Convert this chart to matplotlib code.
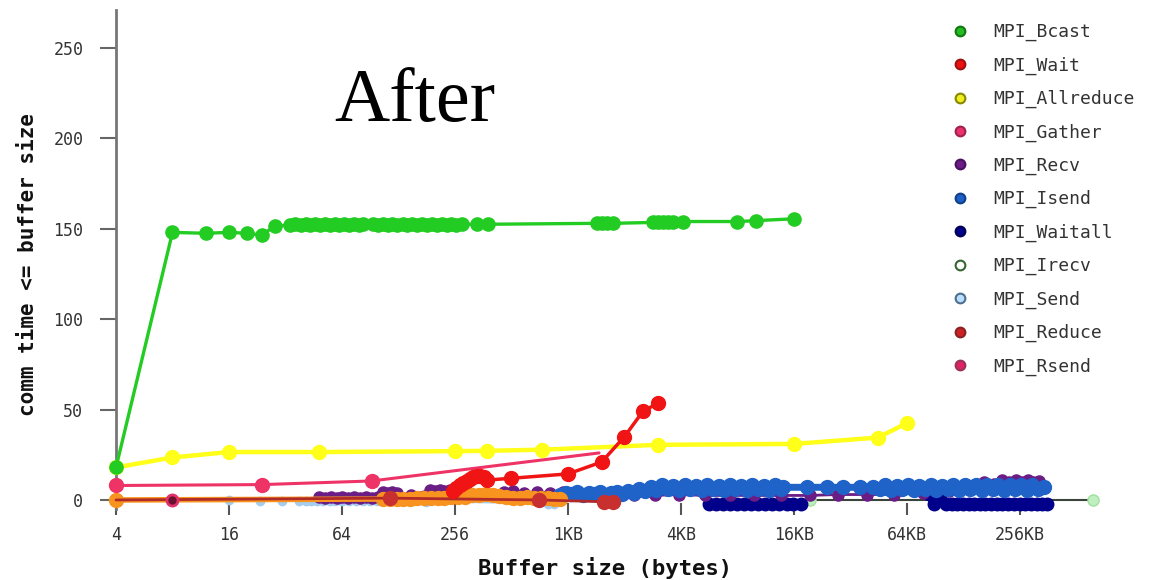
import numpy as np
import matplotlib
matplotlib.use("Agg")
import matplotlib.pyplot as plt
from matplotlib.lines import Line2D
from matplotlib.ticker import NullLocator

# ---------------- data (buffer size in bytes, comm time) ----------------
bcast_x = [4, 8, 12, 16, 20, 24, 28,
           34, 36, 38.5, 41, 43.5, 46, 49, 52, 55, 58.5, 62, 66, 70, 74.5, 79, 83,
           94, 100, 106, 112, 118, 125,
           135, 143, 152, 161, 171, 182, 193, 205, 218, 231, 245, 260, 278,
           335, 383,
           1460, 1560, 1660, 1780,
           2900, 3100, 3300, 3500, 3700,
           4200, 8200, 10300, 16384]
bcast_y = [18, 148, 147.5, 148, 147.5, 146.5, 151.5,
           152, 152.5, 152, 152.5, 152, 152.5, 152, 152.5, 152, 152.5, 152, 152.5, 152, 152.5, 152, 152.5,
           152.5, 152, 152.5, 152, 152.5, 152,
           152.5, 152, 152.5, 152, 152.5, 152, 152.5, 152, 152.5, 152, 152.5, 152, 152.5,
           152.5, 152.5,
           153, 153, 153, 153,
           153.5, 153.5, 153.5, 153.5, 153.5,
           154, 154, 154.5, 155.5]

wait_x = [250, 260, 272, 284, 296, 308, 320, 335, 350, 365, 380, 512, 1024, 1550, 2050, 2570, 3100]
wait_y = [5, 6.5, 8, 9.5, 10.5, 11.5, 12.5, 13, 13.3, 12.5, 11, 12, 14.4, 21, 35, 49, 53.6]

allreduce_x = [4, 8, 16, 48, 256, 380, 745, 3090, 16384, 46000, 65536]
allreduce_y = [18, 23.5, 26.5, 26.5, 27, 27.2, 27.8, 30.5, 31, 34.5, 42.5]

gather_x = [4, 24, 92, 1500]
gather_y = [8, 8.5, 10.5, 26]

other_x = [4, 106, 115, 125, 136, 148, 160, 175, 190, 207, 225, 245, 267, 290, 315, 343,
           373, 406, 442, 481, 523, 569, 619, 674, 733, 798, 868, 930]
other_y = [0, 0.5, 0.5, 0.3, 0.5, 0.8, 1, 1, 1.2, 1, 1, 1.5, 1.5, 1.5, 2.5, 3,
           3.5, 3, 2, 1.5, 1, 1, 1.5, 1, 1, 1, 0.5, 0.5]

reduce_x = [4, 115, 720, 1600, 1780]
reduce_y = [0, 1, 0, -1, -1]

rsend_x = [8]
rsend_y = [0]

send_x = [16, 23.5, 30.7, 38, 41, 44, 47, 51, 55, 59, 64, 70, 76, 83, 90, 98, 106, 180, 800, 860]
send_y = [0, -0.5, -0.5, -0.3, -0.5, -0.3, -0.5, -0.3, -0.5, -0.3, -0.5, -0.3, -0.5, -0.3,
          -0.5, -0.3, -0.5, -1, -2, -2]

recv_x = [48, 52, 56, 60, 64, 69, 74, 80, 86, 93, 100,
          106, 112, 118, 125,
          150, 189, 200, 212, 225, 240,
          290, 340, 400, 470, 520, 600, 700, 820, 960,
          1100, 1400, 1800, 2300, 3000, 4000, 5500, 7500, 10000, 14000, 20000, 28000, 40000,
          56000, 80000, 110000,
          150000, 170000, 190000, 210000, 230000, 250000, 270000, 290000, 310000, 330000]
recv_y = [1.5, 1, 1.5, 1, 1.5, 1, 1.5, 1, 1.5, 1, 1.5,
          4.5, 4, 4.5, 4,
          2.5, 5.5, 5, 5.5, 5, 5.5,
          3, 2.5, 3, 4.5, 5, 4, 4.5, 4, 4.5,
          3, 3, 2.5, 3, 2.5, 3, 2.5, 2.5, 2.5, 2.5, 2.5, 3, 3,
          3, 4, 5,
          8, 10, 9, 11, 10, 11, 10, 11, 10, 10.5]

isend_x = [930, 1000, 1070, 1150, 1230, 1320, 1410, 1510, 1620, 1740, 1860, 2000,
           2140, 2300, 2460, 2640, 2830, 3030, 3250, 3480, 3730, 4000,
           4290, 4600, 4930, 5280, 5660, 6070, 6500, 6970, 7470, 8000,
           8580, 9190, 9850, 10560, 11310, 12130, 13000, 13930, 14300,
           19200, 24500, 29900, 36900, 43300,
           47000, 50400, 54000, 57900, 62000, 66500, 71300, 76400, 81900, 87800,
           94100, 100900, 108100, 115900, 124200, 133100, 142700, 152900, 163900, 175700,
           188300, 201800, 216300, 231800, 248400, 266300, 285400, 305900, 327800, 351400]
isend_y = [3, 4, 3.5, 4.5, 3, 4, 3.5, 4.5, 3, 4, 4.5, 3.5,
           5, 4, 6, 5, 7, 5.5, 8, 6, 7.5, 5.5,
           8, 6, 7.5, 5.5, 8, 6, 7.5, 5.5, 8, 6,
           7.5, 5.5, 8, 6, 7.5, 5.5, 8, 6, 7,
           7, 7, 7, 7, 7,
           6, 8, 5.5, 7.5, 6, 8, 5.5, 7.5, 6, 8,
           5.5, 7.5, 6, 8.5, 5.5, 8, 6, 8.5, 5.5, 8,
           6, 8.5, 5.5, 8, 6, 8.5, 5.5, 8, 6, 7]

waitall_a_x = [5800, 6300, 6900, 7500, 8200, 8900, 9700, 10600, 11500, 12600, 13700, 15000, 16300, 17800]
waitall_a_y = [-2.5, -2.5, -2.5, -2.5, -2.5, -2.5, -2.5, -2.5, -2.5, -2.5, -2.5, -2.5, -2.5, -2.5]
waitall_b_x = [86000, 92000, 99000, 106000, 114000, 122000, 131000, 140000, 150000, 161000, 172000,
               185000, 198000, 212000, 228000, 244000, 262000, 281000, 300000, 322000, 345000, 365000]
waitall_b_y = [3.5, -2.5, 3, -2.5, -2.5, -2.5, -2.5, -2.5, -2.5, -2.5, -2.5,
               -2.5, -2.5, -2.5, -2.5, -2.5, -2.5, -2.5, -2.5, -2.5, -2.5, -2.5]

irecv_x = [19900, 360000, 645000]
irecv_y = [0, 0, 0]

xtick_vals = [4, 16, 64, 256, 1024, 4096, 16384, 65536, 262144]
xtick_labels = ["4", "16", "64", "256", "1KB", "4KB", "16KB", "64KB", "256KB"]
ytick_vals = [0, 50, 100, 150, 200, 250]

legend_names = ["MPI_Bcast", "MPI_Wait", "MPI_Allreduce", "MPI_Gather", "MPI_Recv", "MPI_Isend",
                "MPI_Waitall", "MPI_Irecv", "MPI_Send", "MPI_Reduce", "MPI_Rsend"]
legend_face = ["#22bb22", "#ee1111", "#eeee22", "#e8336b", "#6b1d86", "#1f5fc8",
               "#00008b", "#ffffff", "#bbddff", "#cc2222", "#dd2266"]
legend_edge = ["#117711", "#991111", "#888800", "#a02050", "#4a1060", "#113f88",
               "#000055", "#336633", "#4d6f8f", "#882222", "#993355"]

# ---------------- figure ----------------
W, H = 1165, 580
fig = plt.figure(figsize=(W / 100, H / 100), dpi=100)
ax = fig.add_axes([116 / W, (H - 509) / H, 984 / W, 499 / H])
ax.set_xscale("log", base=2)
ax.set_xlim(4, 2 ** 19.42)
ax.set_ylim(-5, 271)

mono = "DejaVu Sans Mono"


def series(x, y, color, lw, ms, z, mfc=None, mec=None, mew=1.0, markevery=None):
    ax.plot(x, y, "-", color=color, lw=lw, marker="o", ms=ms,
            mfc=mfc or color, mec=mec or color, mew=mew, markevery=markevery,
            clip_on=False, zorder=z, solid_capstyle="round", solid_joinstyle="round")


series(send_x, send_y, "#a6cdee", 1.0, 6, 2)
series(irecv_x, irecv_y, "#3a443a", 1.5, 8, 2.5, mfc="#bfeebf", mec="#a0e0a0", markevery=[0, 2])
series(waitall_a_x, waitall_a_y, "#00008b", 6, 9, 3)
series(waitall_b_x, waitall_b_y, "#00008b", 6, 9, 3)
series(recv_x, recv_y, "#6b1d86", 2.0, 8, 3.5)
series(isend_x, isend_y, "#1f63c8", 5, 10, 4)
series(other_x, other_y, "#f7931e", 4, 10, 5)
series(reduce_x, reduce_y, "#b02a2a", 2.0, 10, 5.5, mfc="#c83030", mec="#c83030", markevery=[1, 2, 3, 4])
series(rsend_x, rsend_y, "#d4265f", 1.5, 8, 6, mfc="#6a1030", mec="#e0306a", mew=2)
series(gather_x, gather_y, "#ee3366", 2.2, 10, 6.5, markevery=[0, 1, 2])
series(allreduce_x, allreduce_y, "#ffff1a", 3.2, 10, 7)
series(wait_x, wait_y, "#f01414", 2.5, 10, 8)
series(bcast_x, bcast_y, "#22cc22", 2.4, 9.5, 9)

# ---------------- axes styling ----------------
for s in ["top", "right", "bottom"]:
    ax.spines[s].set_visible(False)
ax.spines["left"].set_color("#777777")
ax.spines["left"].set_linewidth(2)

ax.set_xticks(xtick_vals)
ax.set_xticklabels(xtick_labels)
ax.xaxis.set_minor_locator(NullLocator())
ax.set_yticks(ytick_vals)
ax.tick_params(axis="x", direction="inout", length=9, width=1.5, color="#555555",
               pad=8, labelsize=12, labelcolor="#333333")
ax.tick_params(axis="y", direction="out", length=11.5, width=1.5, color="#666666",
               pad=12, labelsize=12, labelcolor="#333333")
for lab in ax.get_xticklabels() + ax.get_yticklabels():
    lab.set_family(mono)

ax.set_xlabel("Buffer size (bytes)", family=mono, fontweight="bold", fontsize=16, color="#111111")
ax.xaxis.set_label_coords((605 - 116) / 984, -(568 - 509) / 499)
ax.xaxis.label.set_va("center")
ax.set_ylabel("comm time <= buffer size", family=mono, fontweight="bold", fontsize=15, color="#111111")
ax.yaxis.set_label_coords((28 - 116) / 984, (509 - 265) / 499)
ax.yaxis.label.set_va("center")

fig.text(415 / W, 1 - 103 / H, "After", family="Liberation Serif", fontsize=55,
         ha="center", va="center", color="black")

handles = [Line2D([], [], ls="none", marker="o", ms=7, mfc=f, mec=e, mew=1.5, label=n)
           for n, f, e in zip(legend_names, legend_face, legend_edge)]
leg = fig.legend(handles=handles, loc="upper left", bbox_to_anchor=(951 / W, 1 - 23 / H),
                 frameon=False, borderpad=0, borderaxespad=0, handlelength=1.0,
                 handletextpad=1.33, labelspacing=0.84,
                 prop={"family": mono, "size": 13})
for t in leg.get_texts():
    t.set_color("#333333")

fig.savefig("out.png", dpi=100)
